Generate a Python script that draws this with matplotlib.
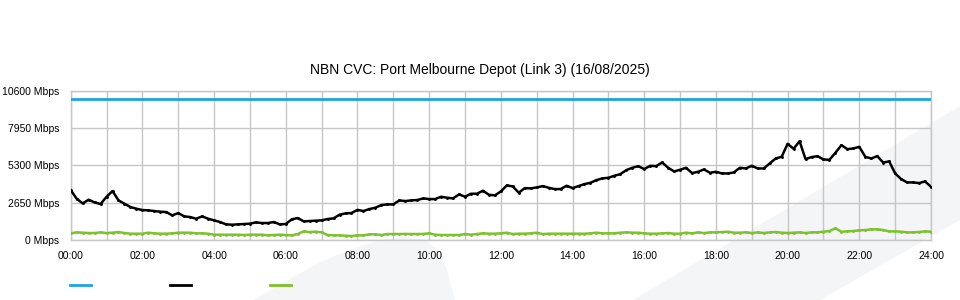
import matplotlib
matplotlib.use("Agg")
import matplotlib.pyplot as plt
from matplotlib.patches import Polygon
from matplotlib.lines import Line2D

plt.rcParams['font.family'] = ['Liberation Sans', 'DejaVu Sans']

# time axis: one sample every 10 minutes, 00:00 .. 24:00 (hours)
hours = [k / 6 for k in range(145)]

capacity = [10000] * 145

# black series (Mbps)
download = [
    3545, 2930, 2599, 2859, 2670, 2552, 3072, 3474, 2812, 2576,
    2339, 2221, 2127, 2103, 2056, 2009, 1985, 1749, 1914, 1678,
    1630, 1512, 1678, 1512, 1394, 1276, 1111, 1087, 1111, 1134,
    1158, 1252, 1205, 1205, 1276, 1111, 1134, 1465, 1560, 1323,
    1347, 1371, 1394, 1489, 1536, 1796, 1890, 1914, 2140, 2056,
    2198, 2292, 2481, 2528, 2528, 2812, 2765, 2812, 2836, 2954,
    2906, 2906, 3072, 3001, 2954, 3237, 3072, 3285, 3285, 3497,
    3214, 3166, 3450, 3875, 3804, 3356, 3686, 3663, 3733, 3828,
    3710, 3615, 3615, 3852, 3686, 3828, 3970, 4064, 4253, 4372,
    4419, 4561, 4679, 4962, 5128, 5246, 5033, 5270, 5246, 5506,
    5128, 4868, 4986, 5128, 4750, 4844, 5010, 4773, 4844, 4726,
    4726, 4797, 5128, 5080, 5270, 5080, 5080, 5435, 5789, 5908,
    6829, 6475, 7018, 5742, 5884, 5955, 5718, 5695, 6191, 6735,
    6451, 6498, 6616, 5908, 5789, 5955, 5500, 5580, 4726, 4324,
    4088, 4088, 4041, 4159, 3781,
]

# green series (Mbps)
upload = [
    473, 543, 520, 496, 496, 543, 496, 520, 567, 496,
    449, 449, 449, 520, 473, 449, 449, 473, 520, 520,
    520, 473, 473, 449, 378, 378, 378, 378, 378, 354,
    378, 378, 378, 331, 354, 378, 354, 331, 425, 614,
    567, 590, 543, 354, 331, 331, 307, 283, 331, 331,
    402, 402, 354, 425, 425, 425, 433, 425, 425, 433,
    473, 378, 354, 354, 354, 354, 425, 378, 425, 473,
    449, 449, 473, 520, 425, 449, 449, 473, 520, 425,
    449, 449, 449, 449, 449, 449, 449, 473, 520, 473,
    473, 473, 520, 543, 520, 520, 473, 449, 449, 473,
    496, 449, 449, 520, 473, 543, 496, 543, 543, 567,
    590, 520, 520, 543, 496, 543, 496, 543, 567, 520,
    496, 520, 543, 496, 543, 543, 590, 638, 827, 590,
    614, 638, 685, 709, 756, 756, 709, 614, 614, 590,
    543, 543, 567, 614, 590,
]

y_ticks = [0, 2650, 5300, 7950, 10600]
y_labels = ["0 Mbps", "2650 Mbps", "5300 Mbps", "7950 Mbps", "10600 Mbps"]
x_ticks = list(range(0, 25, 2))
x_labels = ["%02d:00" % h for h in x_ticks]

fig = plt.figure(figsize=(9.6, 3.0), dpi=100)

# light grey watermark shapes behind the chart
W, H = 960.0, 300.0
def fpts(pts):
    return [(x / W, 1 - y / H) for x, y in pts]

band = Polygon(fpts([(633, 300), (960, 106), (960, 220), (820, 300)]),
               closed=True, transform=fig.transFigure, facecolor='#f4f5f7',
               edgecolor='none', zorder=-2)
swoosh = Polygon(fpts([(253, 300), (285, 282), (320, 262), (355, 248), (385, 239),
                       (405, 237), (425, 240), (438, 250), (447, 270), (455, 300)]),
                 closed=True, transform=fig.transFigure, facecolor='#f4f5f7',
                 edgecolor='none', zorder=-2)
fig.patches.extend([band, swoosh])

ax = fig.add_axes([70.7 / W, 1 - 240 / H, (931 - 70.7) / W, (240 - 90.7) / H])
ax.set_facecolor('none')

ax.plot(hours, capacity, color='#1ea3e4', lw=2.0, zorder=3)
ax.plot(hours, upload, color='#7dc22c', lw=1.8, marker='.', markersize=2.2, zorder=4)
ax.plot(hours, download, color='black', lw=1.8, marker='.', markersize=2.2, zorder=5)

ax.set_xlim(0, 24)
ax.set_ylim(0, 10600)
ax.set_xticks(x_ticks)
ax.set_xticklabels(x_labels)
ax.set_xticks(range(25), minor=True)
ax.set_yticks(y_ticks)
ax.set_yticklabels(y_labels)

ax.grid(True, which='both', axis='x', color='#c6c6c6', lw=1.0)
ax.grid(True, which='major', axis='y', color='#c6c6c6', lw=1.0)
ax.set_axisbelow(True)
for s in ax.spines.values():
    s.set_color('#c6c6c6')
    s.set_linewidth(1.0)

ax.tick_params(axis='both', which='both', length=0, labelsize=7.5, colors='black')
ax.tick_params(axis='y', pad=8)
ax.tick_params(axis='x', pad=8)

fig.text(0.5, 1 - 70 / H, "NBN CVC: Port Melbourne Depot (Link 3) (16/08/2025)",
         ha='center', va='center', fontsize=10)

# legend swatches (no labels)
for x0, c in [(70, '#1ea3e4'), (170, 'black'), (270, '#7dc22c')]:
    fig.add_artist(Line2D([x0 / W, (x0 + 21) / W], [1 - 285 / H] * 2,
                          transform=fig.transFigure, color=c, lw=2.0))

fig.savefig("out.png", dpi=100)
